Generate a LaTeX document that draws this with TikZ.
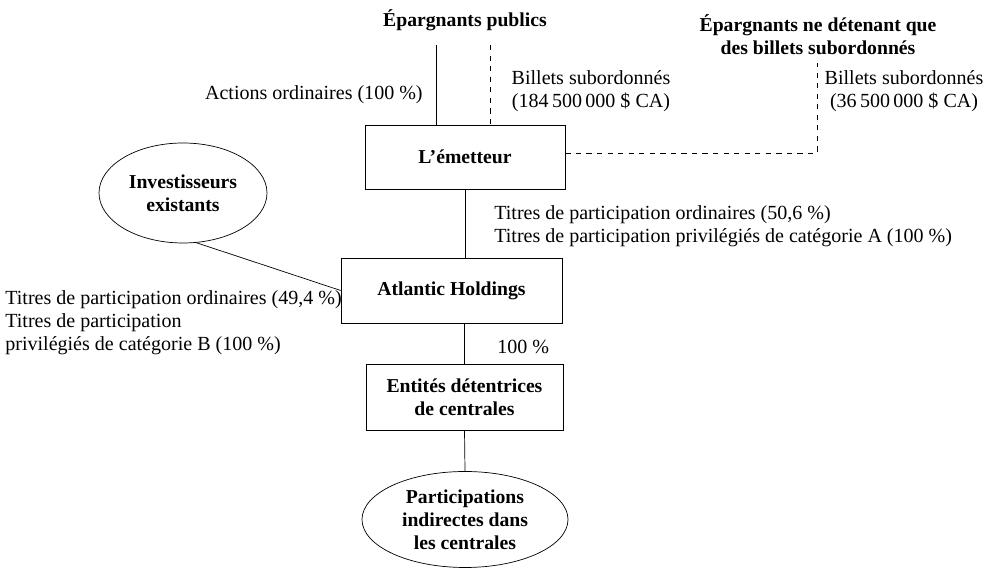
\documentclass[tikz,border=0pt]{standalone}
\usepackage{fontspec}
\setmainfont{Liberation Serif}
\usetikzlibrary{shapes.geometric}
\usetikzlibrary{positioning}

\begin{document}
\begin{tikzpicture}[
  box/.style={draw,thin,rectangle,font=\fontsize{11.2}{13.1}\selectfont\bfseries,align=center,inner sep=0pt},
  bubble/.style={draw,thin,ellipse,font=\fontsize{11.2}{13.1}\selectfont\bfseries,align=center,inner sep=0pt},
  lbl/.style={font=\fontsize{11.4}{13.1}\selectfont,inner sep=0pt},
  head/.style={font=\fontsize{11.2}{13.1}\selectfont\bfseries,align=center,inner sep=0pt}]
\useasboundingbox (0,0) rectangle (19.86,11.44);

% holders at the top
\node[head] (pub) at (9.30,11.04) {Épargnants publics};
\node[head] (sub) at (16.36,10.74) {Épargnants ne détenant que\\des billets subordonnés};

% boxes and bubbles
\node[box,minimum width=4.0cm,minimum height=1.28cm] (emet) at (9.30,8.30) {L’émetteur};
\node[box,minimum width=4.42cm,minimum height=1.30cm] (atl) at (9.03,5.63) {Atlantic Holdings};
\node[box,minimum width=3.94cm,minimum height=1.32cm] (ent) at (9.29,3.50) {Entités détentrices\\de centrales};
\node[bubble,minimum width=4.12cm,minimum height=1.92cm] (part) at (9.30,1.05) {Participations\\indirectes dans\\les centrales};
\node[bubble,minimum width=3.36cm,minimum height=2.0cm] (inv) at (3.66,7.58) {Investisseurs\\existants};

% connectors
\coordinate (pubA) at (8.72,10.54);
\coordinate (pubB) at (9.80,10.54);
\coordinate (subB) at (16.34,10.18);
\draw[thin] (pubA) -- (pubA |- emet.north);
\draw[thin,dashed] (pubB) -- (pubB |- emet.north);
\draw[thin,dashed] ([yshift=0.08cm]emet.east) -| (subB);
\draw[thin] (emet.south) -- (emet.south |- atl.north);
\draw[thin] (ent.north |- atl.south) -- (ent.north);
\draw[thin] (ent.south) -- (part.north);
\draw[thin] (inv.285) -- (atl.west);

% labels
\node[lbl,anchor=east] (actlbl) at (8.46,9.54) {Actions ordinaires (100~\%)};
\node[lbl,align=center] (billA) at (11.82,9.61) {Billets subordonnés\\(184\,500\,000~\$~CA)};
\node[lbl,align=center] (billB) at (18.08,9.61) {Billets subordonnés\\(36\,500\,000~\$~CA)};
\node[lbl,align=left,anchor=west] (titA) at (9.88,6.92) {Titres de participation ordinaires (50,6~\%)\\Titres de participation privilégiés de catégorie A (100~\%)};
\node[lbl,align=left,anchor=west] (titB) at (0.10,4.98) {Titres de participation ordinaires (49,4~\%)\\Titres de participation\\privilégiés de catégorie B (100~\%)};
\node[lbl,anchor=west] (cent) at (9.94,4.50) {100~\%};

\end{tikzpicture}
\end{document}
